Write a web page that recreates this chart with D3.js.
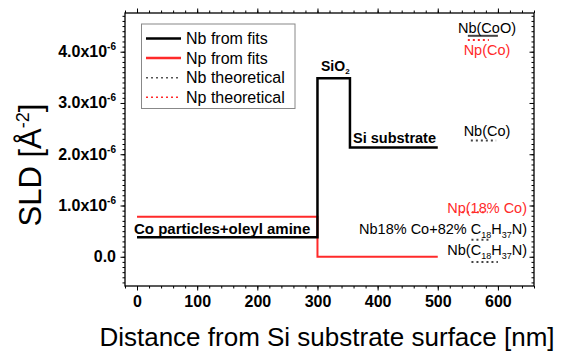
<!DOCTYPE html>
<html><head><meta charset="utf-8">
<script src="https://cdn.jsdelivr.net/npm/d3@7"></script>
<style>body{margin:0;background:#fff} text{font-family:"Liberation Sans",Arial,sans-serif}</style>
</head><body><svg id="c" width="561" height="351"></svg>
<script>
// ---- data ----
const xMajorTicks=[0,100,200,300,400,500,600];
const yMajorTicks=[0,1,2,3,4];
const yTickLabels=["0.0","1.0x10","2.0x10","3.0x10","4.0x10"];
// fitted profiles (distance nm, SLD 1e-6 Å^-2)
const nbFitX=[0,300,300,354,354,500];
const nbFitY=[0.38,0.38,3.48,3.48,2.13,2.13];
const npFitX=[0,300,300,500];
const npFitY=[0.78,0.78,0.0,0.0];
// theoretical values
const theoKind=["Nb","Np","Nb","Np","Nb","Nb"];
const theoY=[4.31,4.23,2.27,0.87,0.33,-0.10];
const theoX0=[550,550,555,540,556,556];
const theoX1=[600,585,597,583,588,600];
const legendNames=["Nb from fits","Np from fits","Nb theoretical","Np theoretical"];

const svg=d3.select("#c");
const x=d3.scaleLinear().domain([-20,660]).range([125,534]);
const y=d3.scaleLinear().domain([-0.57,4.755]).range([286,13]);
const RED="#ff2a2a";

// axes
const xMinor=d3.range(-20,661,20), yMinor=d3.range(-0.5,4.76,0.1).map(v=>+v.toFixed(2));
function ax(g,gen){g.call(gen);g.select(".domain").remove();g.selectAll("line").attr("stroke","#000").attr("stroke-width",1);}
svg.append("g").attr("transform","translate(0,286)").call(g=>ax(g,d3.axisBottom(x).tickValues(xMinor).tickSize(2.5).tickFormat("")));
svg.append("g").attr("transform","translate(0,286)").call(g=>ax(g,d3.axisBottom(x).tickValues(xMajorTicks).tickSize(4.5).tickPadding(5).tickFormat(d3.format("d"))))
  .selectAll("text").attr("font-size",16).attr("font-weight","bold").attr("fill","#000");
svg.append("g").attr("transform","translate(0,13)").call(g=>ax(g,d3.axisTop(x).tickValues(xMinor).tickSize(2.5).tickFormat("")));
svg.append("g").attr("transform","translate(0,13)").call(g=>ax(g,d3.axisTop(x).tickValues(xMajorTicks).tickSize(4.5).tickFormat("")));
svg.append("g").attr("transform","translate(125,0)").call(g=>ax(g,d3.axisLeft(y).tickValues(yMinor).tickSize(2.5).tickFormat("")));
svg.append("g").attr("transform","translate(125,0)").call(g=>ax(g,d3.axisLeft(y).tickValues(yMajorTicks).tickSize(4.5).tickFormat("")));
svg.append("g").attr("transform","translate(534,0)").call(g=>ax(g,d3.axisLeft(y).tickValues(yMinor).tickSize(2.5).tickFormat("")));
svg.append("g").attr("transform","translate(534,0)").call(g=>ax(g,d3.axisLeft(y).tickValues(yMajorTicks).tickSize(4.5).tickFormat("")));
svg.append("rect").attr("x",125).attr("y",13).attr("width",409).attr("height",273).attr("fill","none").attr("stroke","#000").attr("stroke-width",1.3);

// y tick labels
yMajorTicks.forEach((v,i)=>{
  const t=svg.append("text").attr("x",116).attr("y",y(v)+5.5).attr("text-anchor","end")
    .attr("font-size",16).attr("font-weight","bold");
  t.append("tspan").text(yTickLabels[i]);
  if(i>0) t.append("tspan").attr("dy",-7).attr("font-size",10).text("-6");
});

// axis titles
svg.append("text").attr("x",327).attr("y",346).attr("text-anchor","middle").attr("font-size",26).text("Distance from Si substrate surface [nm]");
const yt=svg.append("text").attr("transform","translate(41,165) rotate(-90)").attr("text-anchor","middle").attr("font-size",31);
yt.append("tspan").text("SLD [Å");
yt.append("tspan").attr("dy",-12).attr("font-size",18).text("-2");
yt.append("tspan").attr("dy",12).text("]");

// fitted lines
const line=d3.line().x(d=>x(d[0])).y(d=>y(d[1])).curve(d3.curveLinear);
svg.append("path").attr("d",line(npFitX.map((v,i)=>[v,npFitY[i]]))).attr("fill","none").attr("stroke",RED).attr("stroke-width",2);
svg.append("path").attr("d",line(nbFitX.map((v,i)=>[v,nbFitY[i]]))).attr("fill","none").attr("stroke","#000").attr("stroke-width",2.5);

// theoretical lines
theoY.forEach((v,i)=>{
  svg.append("line").attr("x1",x(theoX0[i])).attr("x2",x(theoX1[i])).attr("y1",y(v)).attr("y2",y(v))
    .attr("stroke",theoKind[i]==="Nb"?"#444":RED).attr("stroke-width",2)
    .attr("stroke-dasharray",i===0?null:"2,3");
});

// theoretical labels
function lbl(xp,yp,anchor,color,parts){
  const t=svg.append("text").attr("x",xp).attr("y",yp).attr("text-anchor",anchor).attr("font-size",14.5).attr("fill",color);
  parts.forEach(p=>{
    if(typeof p==="string") t.append("tspan").text(p);
    else t.append("tspan").attr("dy",p.dy).attr("font-size",p.fs||14.5).text(p.t);
  });
}
lbl(487,33,"middle","#000",["Nb(CoO)"]);
lbl(487,55,"middle",RED,["Np(Co)"]);
lbl(487,136,"middle","#000",["Nb(Co)"]);
lbl(527,213,"end",RED,["Np(18% Co)"]);
lbl(527,234,"end","#000",["Nb18% Co+82% C",{t:"18",dy:4,fs:9},{t:"H",dy:-4},{t:"37",dy:4,fs:9},{t:"N)",dy:-4}]);
lbl(527,255,"end","#000",["Nb(C",{t:"18",dy:4,fs:9},{t:"H",dy:-4},{t:"37",dy:4,fs:9},{t:"N)",dy:-4}]);

// layer labels
svg.append("text").attr("x",134).attr("y",234).attr("font-size",15).attr("font-weight","bold").text("Co particles+oleyl amine");
svg.append("text").attr("x",353).attr("y",143).attr("font-size",14.5).attr("font-weight","bold").text("Si substrate");
const so=svg.append("text").attr("x",321).attr("y",71).attr("font-size",14).attr("font-weight","bold");
so.append("tspan").text("SiO");so.append("tspan").attr("dy",3).attr("font-size",8).text("2");

// legend
svg.append("rect").attr("x",141.5).attr("y",24).attr("width",153.5).attr("height",84.5).attr("fill","#fff").attr("stroke","#888").attr("stroke-width",1);
legendNames.forEach((n,i)=>{
  const yy=38.5+i*19.6;
  svg.append("line").attr("x1",146).attr("x2",181).attr("y1",yy).attr("y2",yy)
    .attr("stroke",i%2===0?(i<2?"#000":"#555"):RED).attr("stroke-width",i<2?2.5:1.5)
    .attr("stroke-dasharray",i<2?null:"2,3");
  svg.append("text").attr("x",186).attr("y",yy+5.5).attr("font-size",16).text(n);
});
</script></body></html>
